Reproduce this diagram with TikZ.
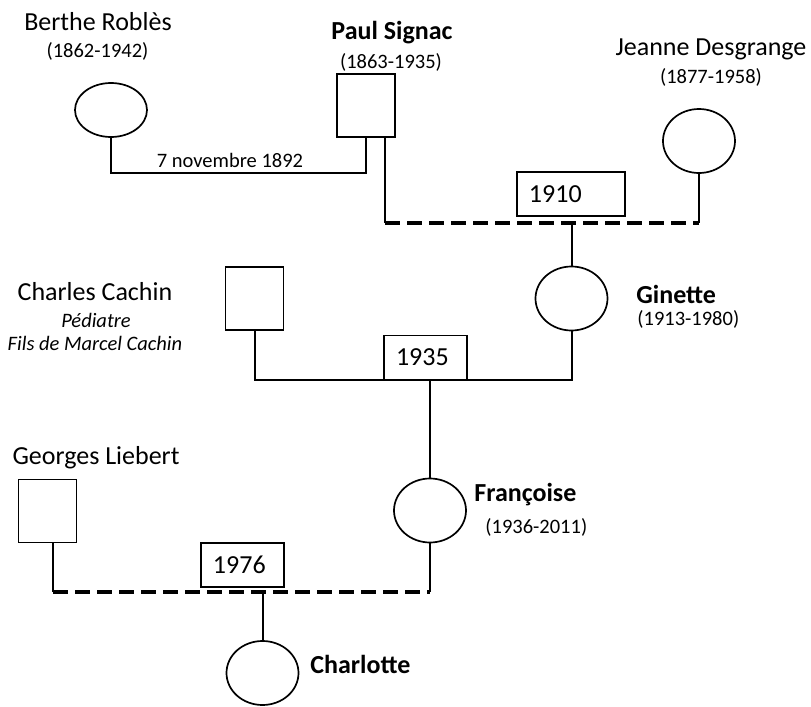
\documentclass[tikz,border=0pt]{standalone}
\usepackage{fontspec}
\setmainfont{Carlito}
\usetikzlibrary{shapes.geometric}

\begin{document}
\begin{tikzpicture}[x=0.5pt, y=-0.5pt,
    female/.style={ellipse, draw, line width=0.85pt, minimum width=36pt, minimum height=32pt, inner sep=0pt},
    male/.style={rectangle, draw, line width=0.85pt, minimum width=29pt, minimum height=31.5pt, inner sep=0pt},
    yearbox/.style={rectangle, draw, fill=white, line width=0.85pt, align=left, inner xsep=6pt, inner ysep=0pt, minimum height=22pt, text width=#1, font=\fontsize{13}{15}\selectfont},
    plabel/.style={anchor=base, inner sep=0pt, font=\fontsize{13}{15}\selectfont},
    blabel/.style={anchor=base west, inner sep=0pt, font=\fontsize{13}{15}\selectfont\bfseries},
    dlabel/.style={anchor=base, inner sep=0pt, font=\fontsize{10.25}{12}\selectfont},
    ilabel/.style={anchor=base, inner sep=0pt, font=\fontsize{10.25}{12}\selectfont\itshape},
    link/.style={line width=1pt},
    wedlock/.style={line width=1.6pt, dash pattern=on 7.5pt off 3.5pt}]
\useasboundingbox (0,0) rectangle (811,707);

\node[female, minimum height=27pt] (berthe) at (111,110) {};
\node[male] (paul) at (366,105.5) {};
\node[female] (jeanne) at (699,141) {};
\node[female] (ginette) at (571.5,298.5) {};
\node[male] (charles) at (254.5,298.5) {};
\node[female] (francoise) at (430,510.5) {};
\node[male] (georges) at (47.5,511) {};
\node[female] (charlotte) at (262.5,673) {};

\node[plabel] (lberthe) at (98,30) {Berthe Roblès};
\node[dlabel] (dberthe) at (97.5,57) {(1862-1942)};
\node[plabel, font=\fontsize{13}{15}\selectfont\bfseries] (lpaul) at (392,39) {Paul Signac};
\node[dlabel] (dpaul) at (391,68) {(1863-1935)};
\node[plabel] (ljeanne) at (711,55) {Jeanne Desgrange};
\node[dlabel] (djeanne) at (711,83) {(1877-1958)};
\node[dlabel] (lwedding) at (230,167) {7 novembre 1892};
\node[blabel] (lginette) at (636,303) {Ginette};
\node[dlabel, anchor=base west] (dginette) at (637,325) {(1913-1980)};
\node[plabel] (lcharles) at (95,300) {Charles Cachin};
\node[ilabel] (jcharles) at (96,327) {Pédiatre};
\node[ilabel] (fcharles) at (95,350) {Fils de Marcel Cachin};
\node[plabel] (lgeorges) at (96,464) {Georges Liebert};
\node[blabel] (lfrancoise) at (474,501) {Françoise};
\node[dlabel, anchor=base west] (dfrancoise) at (485,533) {(1936-2011)};
\node[blabel] (lcharlotte) at (310,673) {Charlotte};

\coordinate (w1892) at (240,173);
\coordinate (w1910) at (571,223);
\coordinate (w1976) at (264,592);
\coordinate (pdrop) at ([xshift=9.5pt]paul.south);
\coordinate (gdrop) at ([xshift=2.75pt]georges.south);

\draw[link] (berthe.south) |- (w1892) -| (paul.south);
\draw[link] (pdrop) -- (pdrop |- w1910);
\draw[link] (jeanne.south) -- (jeanne.south |- w1910);
\draw[wedlock] (pdrop |- w1910) -- (jeanne.south |- w1910);
\draw[link] (ginette.north |- w1910) -- (ginette.north);

\node[yearbox=42pt] (y1910) at (571,194) {1910};
\node[yearbox=29.5pt] (y1935) at (425.5,357.5) {1935};
\node[yearbox=29.5pt] (y1976) at (242.5,565) {1976};

\draw[link] (charles.south) |- (y1935.south) -| (ginette.south);
\draw[link] (francoise.north |- y1935.south) -- (francoise.north);
\draw[link] (gdrop) -- (gdrop |- w1976);
\draw[link] (francoise.south) -- (francoise.south |- w1976);
\draw[wedlock] (gdrop |- w1976) -- (francoise.south |- w1976);
\draw[link] (charlotte.north |- w1976) -- (charlotte.north);
\end{tikzpicture}
\end{document}
